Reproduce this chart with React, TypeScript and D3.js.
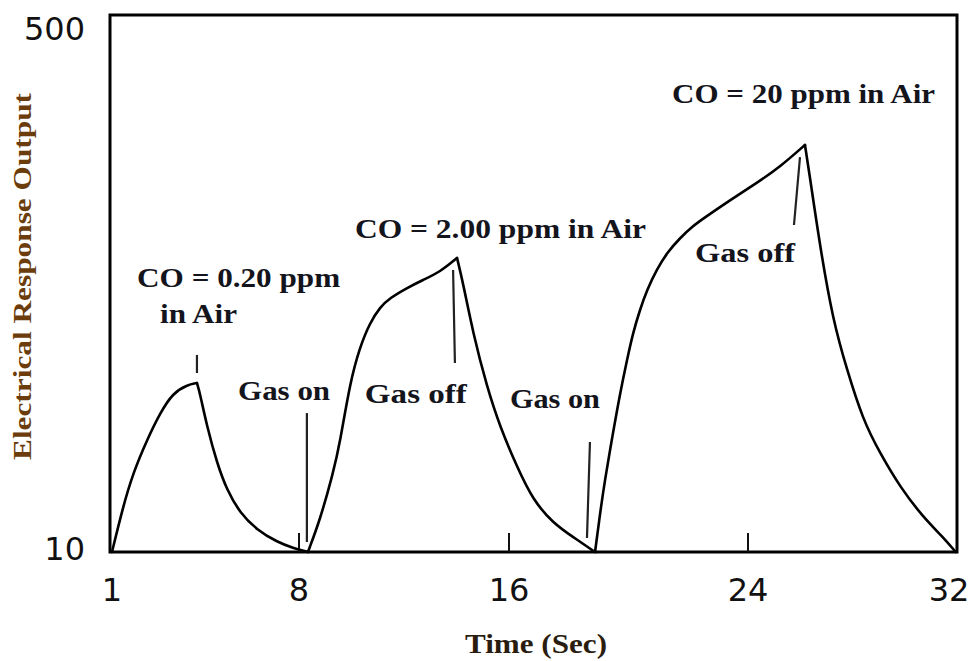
import React from "react";
import * as d3 from "d3";

// Axis ticks
const xTickValues = [1, 8, 16, 24, 32];
const yTickValues = [10, 500];
const innerTickValues = [8, 16, 24];

// Sensor response trace (time in s, response value)
const timeSec = [
  1.0, 1.41, 1.79, 2.31, 2.8, 3.28, 3.81, 4.18,
  4.29, 4.56, 4.93, 5.3, 5.79, 6.43, 7.18, 7.78, 8.34,
  8.8, 9.3, 9.56, 9.94, 10.32, 10.7, 11.09, 11.47, 12.11, 12.72, 13.37, 14.02,
  14.25, 14.63, 15.16, 15.66, 16.27, 16.8, 17.47, 18.14, 18.88,
  19.05, 19.21, 19.48, 19.72, 19.95, 20.15, 20.38, 20.62, 20.95, 21.29, 21.72, 22.16, 22.49, 23.4, 24.34, 25.22, 26.18,
  26.37, 26.76, 27.25, 27.79, 28.4, 29.05, 29.82, 30.7, 31.46, 31.95,
];
const response = [
  10, 51.1, 82.1, 112.2, 136.8, 155.1, 162.4, 164.2,
  155.1, 124.1, 91.2, 66.6, 45.6, 30.1, 19.1, 13.6, 10,
  39.2, 82.1, 109.5, 164.2, 197.1, 219.0, 233.6, 241.8, 250.9, 258.2, 265.5, 278.3,
  255.5, 209.8, 160.6, 124.1, 87.6, 57.5, 36.5, 23.7, 10,
  45.6, 75.7, 118.6, 155.1, 185.2, 209.8, 230.8, 249.1, 268.0, 283.0, 296.5, 307.5, 314.0, 331.2, 346.7, 361.3, 381.4,
  352.2, 288.3, 221.7, 176.1, 130.5, 100.3, 69.3, 41.9, 23.7, 10,
];

// Annotation texts and their anchors (time, value)
const annotationText = [
  "CO = 0.20 ppm",
  "in Air",
  "Gas on",
  "CO = 2.00 ppm in Air",
  "Gas off",
  "Gas on",
  "CO = 20 ppm in Air",
  "Gas off",
];
const annotationTime = [1.94, 2.8, 5.72, 10.13, 10.51, 16.03, 21.46, 22.23];
const annotationValue = [251.8, 219.0, 148.7, 296.5, 146.0, 141.4, 419.7, 274.6];

// Marker (pointer) lines
const markerStartTime = [4.18, 8.3, 13.87, 18.71, 25.99];
const markerStartValue = [189.8, 136.8, 267.3, 110.4, 370.4];
const markerEndTime = [4.18, 8.3, 13.94, 18.61, 25.76];
const markerEndValue = [173.3, 19.1, 182.5, 22.8, 308.4];

const xTitle = "Time (Sec)";
const yTitle = "Electrical Response Output";

type Pt = { t: number; v: number };

function splitAtTurns(pts: Pt[]): Pt[][] {
  const segs: Pt[][] = [];
  let cur: Pt[] = [pts[0]];
  let dir = 0;
  for (let i = 1; i < pts.length; i++) {
    const d = Math.sign(pts[i].v - pts[i - 1].v);
    if (dir !== 0 && d !== 0 && d !== dir) {
      segs.push(cur);
      cur = [pts[i - 1]];
    }
    if (d !== 0) dir = d;
    cur.push(pts[i]);
  }
  segs.push(cur);
  return segs;
}

export default function App() {
  const W = 971;
  const H = 661;
  const left = 110;
  const right = 957;
  const top = 15;
  const bottom = 552;

  const x = d3.scaleLinear().domain(xTickValues).range([112, 299, 509, 748, 957]);
  const y = d3.scaleLinear().domain([10, 500]).range([bottom, top]);

  const pts: Pt[] = timeSec.map((t, i) => ({ t, v: response[i] }));
  const segments = splitAtTurns(pts);
  const line = d3
    .line<Pt>()
    .x((d) => x(d.t))
    .y((d) => y(d.v))
    .curve(d3.curveBasis);

  const annotationWidths = [203, 77, 92, 291, 102, 90, 263, 100];
  const serif = "'Liberation Serif', 'Times New Roman', serif";
  const sans = "'DejaVu Sans', sans-serif";
  const textColor = "#14141c";

  return (
    <svg
      width={W}
      height={H}
      viewBox={`0 0 ${W} ${H}`}
      style={{ position: "absolute", left: 0, top: 0, background: "#fff" }}
    >
      <rect x={0} y={0} width={W} height={H} fill="#fff" />

      {/* frame */}
      <rect
        x={left}
        y={top}
        width={right - left}
        height={bottom - top}
        fill="none"
        stroke="#000"
        strokeWidth={3}
      />

      {/* inner ticks */}
      {innerTickValues.map((t) => (
        <line
          key={`it${t}`}
          x1={x(t)}
          x2={x(t)}
          y1={bottom}
          y2={bottom - 19}
          stroke="#111"
          strokeWidth={2}
        />
      ))}

      {/* x tick labels */}
      {xTickValues.map((t) => (
        <text
          key={`xt${t}`}
          x={Math.min(x(t), 949)}
          y={601}
          textAnchor="middle"
          fontFamily={sans}
          fontSize={32}
          fill="#111"
        >
          {t}
        </text>
      ))}

      {/* y tick labels */}
      {yTickValues.map((v) => (
        <text
          key={`yt${v}`}
          x={85}
          y={Math.max(y(v) + 8, 40)}
          textAnchor="end"
          fontFamily={sans}
          fontSize={32}
          fill="#111"
        >
          {v}
        </text>
      ))}

      {/* response curve */}
      {segments.map((s, i) => (
        <path
          key={`seg${i}`}
          d={line(s) || ""}
          fill="none"
          stroke="#000"
          strokeWidth={2.6}
          strokeLinejoin="miter"
          strokeLinecap="round"
        />
      ))}

      {/* markers */}
      {markerStartTime.map((t, i) => (
        <line
          key={`mk${i}`}
          x1={x(t)}
          y1={y(markerStartValue[i])}
          x2={x(markerEndTime[i])}
          y2={y(markerEndValue[i])}
          stroke="#222"
          strokeWidth={2.2}
        />
      ))}

      {/* annotations */}
      {annotationText.map((txt, i) => (
        <text
          key={`an${i}`}
          x={x(annotationTime[i])}
          y={y(annotationValue[i])}
          fontFamily={serif}
          fontWeight="bold"
          fontSize={27}
          fill={textColor}
          textLength={annotationWidths[i]}
          lengthAdjust="spacingAndGlyphs"
        >
          {txt}
        </text>
      ))}

      {/* axis titles */}
      <text
        x={465}
        y={653}
        fontFamily={serif}
        fontWeight="bold"
        fontSize={27}
        fill="#2a1d10"
        textLength={142}
        lengthAdjust="spacingAndGlyphs"
      >
        {xTitle}
      </text>
      <text
        transform="translate(31,460) rotate(-90)"
        x={0}
        y={0}
        fontFamily={serif}
        fontWeight="bold"
        fontSize={26}
        fill="#6b3d0c"
        textLength={367}
        lengthAdjust="spacingAndGlyphs"
      >
        {yTitle}
      </text>
    </svg>
  );
}
